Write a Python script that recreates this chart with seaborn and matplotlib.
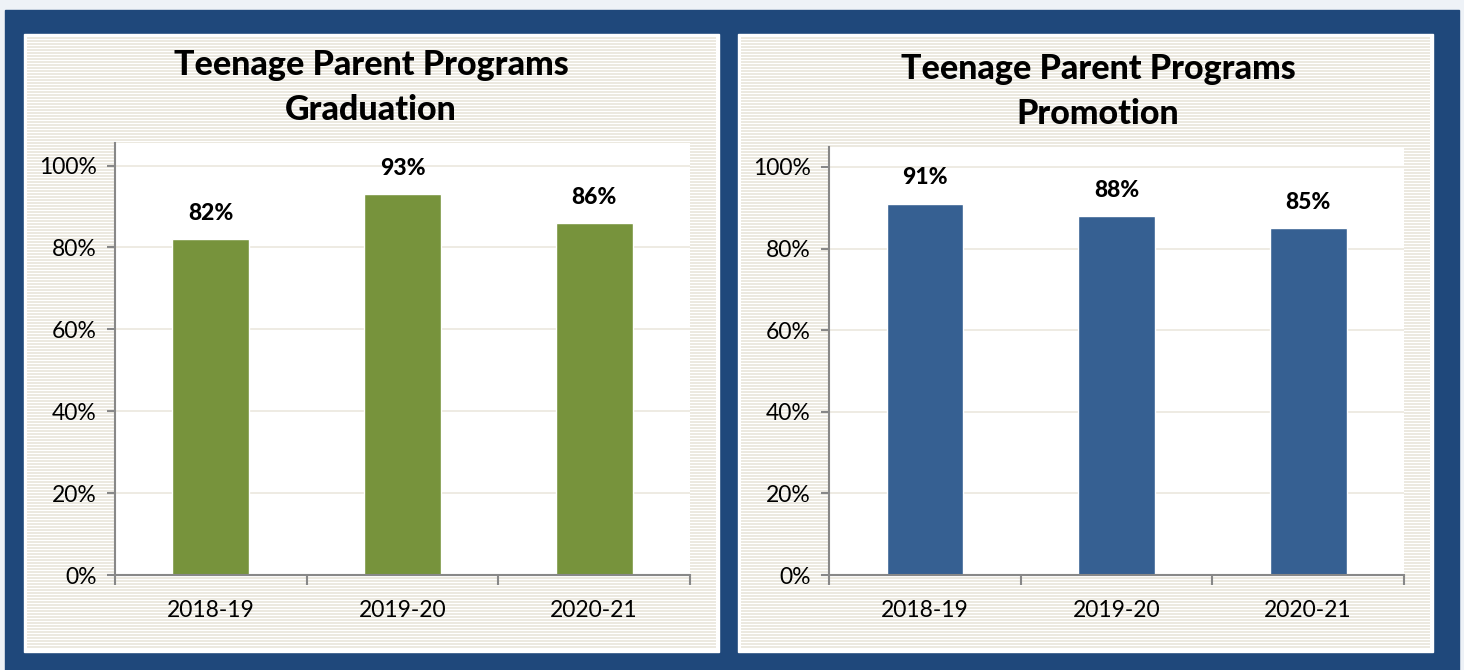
import numpy as np
import matplotlib
matplotlib.use("Agg")
import matplotlib.pyplot as plt
import seaborn as sns
from matplotlib.patches import Rectangle

# data
years = ["2018-19", "2019-20", "2020-21"]
graduation = [82, 93, 86]
promotion = [91, 88, 85]
y_ticks = [0, 20, 40, 60, 80, 100]
titles = [("Teenage Parent Programs", "Graduation"), ("Teenage Parent Programs", "Promotion")]

sns.set_style("white")
plt.rcParams["font.family"] = ["Lato", "DejaVu Sans"]
plt.rcParams["text.color"] = "black"
plt.rcParams["xtick.labelcolor"] = "black"
plt.rcParams["ytick.labelcolor"] = "black"

W, H = 1464, 670
fig = plt.figure(figsize=(W / 100, H / 100), dpi=100)
fig.patch.set_facecolor("#eef2f7")


def box(x0, y0, x1, y1):
    # pixel box (top-left origin) -> figure coords
    return [x0 / W, 1 - y1 / H, (x1 - x0) / W, (y1 - y0) / H]


# blue frame
fig.patches.append(Rectangle((5 / W, 0), (1459 - 5) / W, 1 - 10 / H,
                             transform=fig.transFigure, color="#1f487b", zorder=0))

grid_col = "#ebe8de"
axis_col = "#888888"

panels = [
    dict(panel=(24, 34, 719, 652), plot=(115, 143, 690, 575), ymax=105.5,
         values=graduation, color="#77933c", tx=371, ty=(65, 110), title=titles[0]),
    dict(panel=(738, 34, 1433, 652), plot=(829, 147, 1404, 575), ymax=104.9,
         values=promotion, color="#366092", tx=1098, ty=(69, 114), title=titles[1]),
]

for p in panels:
    x0, y0, x1, y1 = p["panel"]
    # white panel with thin border, striped inside
    fig.patches.append(Rectangle((x0 / W, 1 - y1 / H), (x1 - x0) / W, (y1 - y0) / H,
                                 transform=fig.transFigure, color="white", zorder=1))
    bg = fig.add_axes(box(x0 + 3, y0 + 3, x1 - 3, y1 - 3), zorder=2)
    n = (y1 - y0 - 6)
    rows = np.array([0.0 if i % 3 == 2 else 1.0 for i in range(n)])[:, None]
    stripe_cmap = matplotlib.colors.ListedColormap(["#ffffff", "#ece9e0"])
    bg.imshow(rows, aspect="auto", cmap=stripe_cmap, interpolation="nearest", vmin=0, vmax=1)
    bg.axis("off")

    # title lines
    for line, ty in zip(p["title"], p["ty"]):
        fig.text(p["tx"] / W, 1 - ty / H, line, ha="center", va="center",
                 fontsize=24.5, fontweight=900, color="black", zorder=5)

    ax = fig.add_axes(box(*p["plot"]), zorder=3)
    ax.set_facecolor("white")
    sns.barplot(x=years, y=p["values"], color=p["color"], width=0.4,
                saturation=1, ax=ax, zorder=3)
    ax.set_xlim(-0.5, 2.5)
    ax.set_ylim(0, p["ymax"])
    ax.set_yticks(y_ticks)
    ax.set_yticklabels([f"{t}%" for t in y_ticks])
    ax.yaxis.grid(True, color=grid_col, linewidth=1.2, zorder=0)
    ax.set_axisbelow(True)
    ax.set_xlabel("")
    ax.set_ylabel("")

    for side in ["top", "right"]:
        ax.spines[side].set_visible(False)
    for side in ["left", "bottom"]:
        ax.spines[side].set_color(axis_col)
        ax.spines[side].set_linewidth(1.5)
        ax.spines[side].set_zorder(4)

    ax.tick_params(axis="y", direction="out", length=6, width=1.5, color=axis_col,
                   labelsize=16.5, labelcolor="black", pad=7, left=True)
    ax.set_xticks([-0.5, 0.5, 1.5, 2.5], minor=True)
    ax.tick_params(axis="x", which="major", length=0, labelsize=16.5,
                   labelcolor="black", pad=18)
    ax.tick_params(axis="x", which="minor", direction="out", length=7, width=1.5,
                   color=axis_col, bottom=True)

    ax.bar_label(ax.containers[0], labels=[f"{v}%" for v in p["values"]],
                 padding=11, fontsize=16.5, fontweight=900, color="black")

fig.savefig("out.png", dpi=100, facecolor=fig.get_facecolor())
